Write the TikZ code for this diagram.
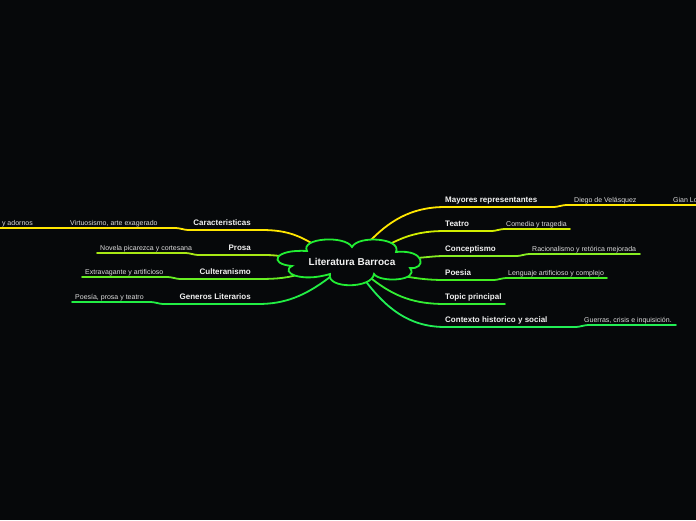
\documentclass[tikz,border=0pt]{standalone}
\usepackage{fontspec}
\setmainfont{Liberation Sans}
\definecolor{bg}{HTML}{06080A}
\definecolor{cY}{HTML}{FFE600}
\definecolor{cT}{HTML}{D2EE00}
\definecolor{cP}{HTML}{A8E814}
\definecolor{cC}{HTML}{88EE22}
\definecolor{cCu}{HTML}{66EE22}
\definecolor{cPo}{HTML}{44EE22}
\definecolor{cTo}{HTML}{33EE33}
\definecolor{cG}{HTML}{22EE44}
\definecolor{cX}{HTML}{22EE55}
\definecolor{cCl}{HTML}{22EE33}
\definecolor{tw}{HTML}{F2F2F2}
\definecolor{ts}{HTML}{DDDDDD}
\begin{document}
\begin{tikzpicture}[x=1pt,y=-1pt,
  title/.style={font=\bfseries\fontsize{10}{12}\selectfont, text=tw, inner sep=0},
  lab/.style={font=\bfseries\fontsize{8}{10}\selectfont, text=tw, inner sep=0},
  sublab/.style={font=\fontsize{7}{9}\selectfont, text=ts, inner sep=0},
  br/.style={line width=1.8pt, line cap=round}]
\fill[bg] (0,0) rectangle (696,520);
\useasboundingbox (0,0) rectangle (696,520);

% cloud attach points
\coordinate (rM) at (368,243);
\coordinate (rT) at (388,245);
\coordinate (rC) at (416,258);
\coordinate (rP) at (403,276);
\coordinate (rTo) at (372,279);
\coordinate (rX) at (364,279);
\coordinate (lC) at (313,244);
\coordinate (lP) at (280,256);
\coordinate (lCu) at (300,274);
\coordinate (lG) at (330,277);

% right branch points
\coordinate (m1) at (445,207); \coordinate (m2) at (552,207); \coordinate (m3) at (568,205); \coordinate (m4) at (650,205); \coordinate (m5) at (662,205); \coordinate (m6) at (696,205);
\coordinate (t1) at (445,231); \coordinate (t2) at (490,231); \coordinate (t3) at (506,229); \coordinate (t4) at (570,229);
\coordinate (c1) at (445,256); \coordinate (c2) at (515,256); \coordinate (c3) at (531,254); \coordinate (c4) at (640,254);
\coordinate (p1) at (445,280); \coordinate (p2) at (492,280); \coordinate (p3) at (508,278); \coordinate (p4) at (607,278);
\coordinate (o1) at (445,304); \coordinate (o2) at (505,304);
\coordinate (x1) at (445,327); \coordinate (x2) at (574,327); \coordinate (x3) at (590,325); \coordinate (x4) at (676,325);
% left branch points
\coordinate (k1) at (262,230); \coordinate (k2) at (190,230); \coordinate (k3) at (174,228); \coordinate (k4) at (0,228);
\coordinate (s1) at (262,255); \coordinate (s2) at (200,255); \coordinate (s3) at (184,253); \coordinate (s4) at (97,253);
\coordinate (u1) at (255,279); \coordinate (u2) at (182,279); \coordinate (u3) at (166,277); \coordinate (u4) at (82,277);
\coordinate (g1) at (258,304); \coordinate (g2) at (165,304); \coordinate (g3) at (149,302); \coordinate (g4) at (72,302);

% connectors
\draw[br,cY] (rM) .. controls (388,222) and (410,207) .. (m1) -- (m2) .. controls (560,207) and (560,205) .. (m3) -- (m4) .. controls (656,205) and (656,205) .. (m5) -- (m6);
\draw[br,cT] (rT) .. controls (405,236) and (420,231) .. (t1) -- (t2) .. controls (498,231) and (498,229) .. (t3) -- (t4);
\draw[br,cC] (rC) .. controls (430,257) and (435,256) .. (c1) -- (c2) .. controls (523,256) and (523,254) .. (c3) -- (c4);
\draw[br,cPo] (rP) .. controls (420,279) and (430,280) .. (p1) -- (p2) .. controls (500,280) and (500,278) .. (p3) -- (p4);
\draw[br,cTo] (rTo) .. controls (395,297) and (415,304) .. (o1) -- (o2);
\draw[br,cX] (rX) .. controls (385,307) and (408,327) .. (x1) -- (x2) .. controls (582,327) and (582,325) .. (x3) -- (x4);

\draw[br,cY] (lC) .. controls (298,235) and (285,230) .. (k1) -- (k2) .. controls (182,230) and (182,228) .. (k3) -- (k4);
\draw[br,cP] (lP) .. controls (272,255) and (268,255) .. (s1) -- (s2) .. controls (192,255) and (192,253) .. (s3) -- (s4);
\draw[br,cCu] (lCu) .. controls (285,279) and (270,279) .. (u1) -- (u2) .. controls (174,279) and (174,277) .. (u3) -- (u4);
\draw[br,cG] (lG) .. controls (305,296) and (285,304) .. (g1) -- (g2) .. controls (157,304) and (157,302) .. (g3) -- (g4);

% cloud
\draw[line width=1.8pt, cCl, fill=bg]
  (307,251) .. controls (300,238) and (345,235) .. (352,247)
  .. controls (358,235) and (402,238) .. (396,252)
  .. controls (426,249) and (426,270) .. (410,268)
  .. controls (420,281) and (380,283) .. (374,274)
  .. controls (372,289) and (326,289) .. (330,274)
  .. controls (300,283) and (280,272) .. (292,266)
  .. controls (268,264) and (274,249) .. cycle;
\node[title] (center) at (352,262) {Literatura Barroca};

% right labels
\node[lab, anchor=base west] (mayores) at (445,202) {Mayores representantes};
\node[sublab, anchor=base west] (diego) at (574,202) {Diego de Velásquez};
\node[sublab, anchor=base west] (gian) at (673,202) {Gian Lo};
\node[lab, anchor=base west] (teatro) at (445,226) {Teatro};
\node[sublab, anchor=base west] (comedia) at (506,226) {Comedia y tragedia};
\node[lab, anchor=base west] (concept) at (445,251) {Conceptismo};
\node[sublab, anchor=base west] (racional) at (532,251) {Racionalismo y retórica mejorada};
\node[lab, anchor=base west] (poesia) at (445,275) {Poesia};
\node[sublab, anchor=base west] (lenguaje) at (508,275) {Lenguaje artificioso y complejo};
\node[lab, anchor=base west] (topic) at (445,299) {Topic principal};
\node[lab, anchor=base west] (contexto) at (445,322) {Contexto historico y social};
\node[sublab, anchor=base west] (guerras) at (584,322) {Guerras, crisis e inquisición.};

% left labels
\node[lab, anchor=base east] (caract) at (251,225) {Caracteristicas};
\node[sublab, anchor=base west] (virtu) at (70,225) {Virtuosismo, arte exagerado};
\node[sublab, anchor=base east] (adornos) at (33,225) {y adornos};
\node[lab, anchor=base east] (prosa) at (251,250) {Prosa};
\node[sublab, anchor=base west] (novela) at (100,250) {Novela picarezca y cortesana};
\node[lab, anchor=base east] (culter) at (251,274) {Culteranismo};
\node[sublab, anchor=base west] (extrav) at (85,274) {Extravagante y artificioso};
\node[lab, anchor=base east] (generos) at (251,299) {Generos Literarios};
\node[sublab, anchor=base west] (poesiasub) at (75,299) {Poesía, prosa y teatro};
\end{tikzpicture}
\end{document}
